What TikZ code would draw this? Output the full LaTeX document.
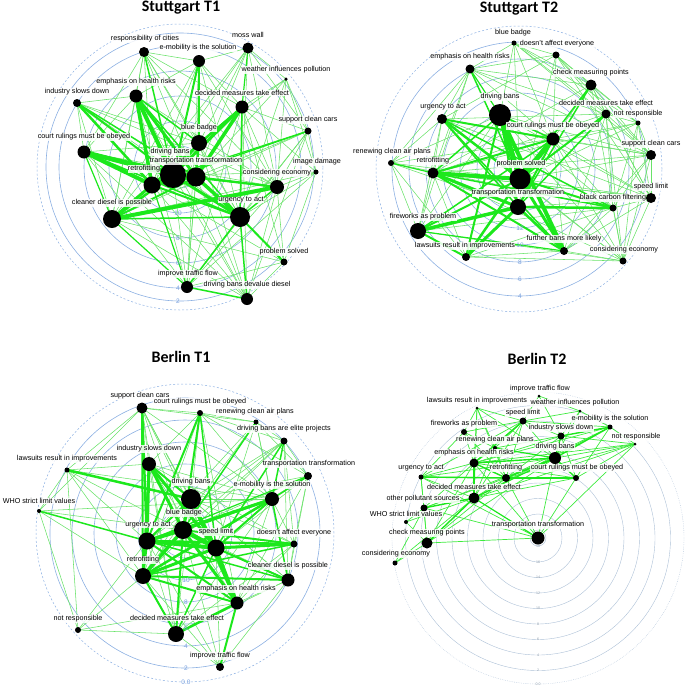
\documentclass[tikz,border=0pt]{standalone}
\usepackage{fontspec}
\setmainfont{Liberation Sans}
\newfontfamily\titlefam{Carlito}
\usetikzlibrary{backgrounds}
\definecolor{edgelight}{RGB}{105,226,105}
\definecolor{edgebright}{RGB}{28,232,28}
\definecolor{ringblue}{RGB}{140,176,226}
\definecolor{ringnum}{RGB}{120,160,222}
\definecolor{ringgray}{RGB}{172,192,214}
\newcommand{\labfont}{\fontsize{7.2}{8}\selectfont}
\newcommand{\numfont}{\fontsize{6.5}{7}\selectfont}
\newcommand{\tinynum}{\fontsize{3.6}{4}\selectfont}
\tikzset{
  vtx/.style={circle, fill=black, inner sep=0pt, minimum size=#1},
  lab/.style={font=\labfont, fill=white, fill opacity=0.85, text opacity=1, inner sep=0.4pt},
  ttl/.style={font=\titlefam\bfseries\fontsize{16}{18}\selectfont},
  ring/.style={draw=ringblue, line width=0.6pt},
  outerring/.style={draw=ringblue, line width=0.5pt, dash pattern=on 2pt off 2pt},
  grayring/.style={draw=ringgray, line width=0.4pt},
  dotring/.style={draw=ringgray, line width=0.4pt, dash pattern=on 0.6pt off 1.2pt},
  ringlab/.style={font=\numfont, text=ringnum, inner sep=0.3pt},
  tinylab/.style={font=\tinynum, text=ringgray!80!black, inner sep=0.2pt},
  thinedge/.style={draw=edgelight, line width=0.55pt},
  heavyedge/.style={draw=edgebright}
}
\begin{document}
\begin{tikzpicture}[x=1pt,y=-1pt]
\useasboundingbox (0,0) rectangle (685,686);

% ---------------- titles ----------------
\node[ttl] (tA) at (181,8) {Stuttgart T1};
\node[ttl] (tB) at (519,9) {Stuttgart T2};
\node[ttl] (tC) at (181,357) {Berlin T1};
\node[ttl] (tD) at (537,359) {Berlin T2};

% ---------------- rings ----------------
\begin{pgfonlayer}{background}
\foreach \r in {21,46,71,96,121,134} \draw[ring] (180,167) circle[radius=\r pt];
\draw[outerring] (180,167) circle[radius=143pt];
\foreach \r in {25,42,59,76,93,110,127} \draw[ring] (519,169) circle[radius=\r pt];
\draw[outerring] (519,169) circle[radius=143pt];
\foreach \r in {25,47,69,91,113,135} \draw[ring] (185,533) circle[radius=\r pt];
\draw[outerring] (185,533) circle[radius=149pt];
\foreach \r in {8,24,39.5,55,70.5,86,101.5,117,132.5} \draw[grayring] (538,538) circle[radius=\r pt];
\draw[dotring] (538,538) circle[radius=146pt];
\end{pgfonlayer}

\node[ringlab] (Ar10) at (178,213) {10};
\node[ringlab] (Ar8) at (178,238) {8};
\node[ringlab] (Ar6) at (178,263) {6};
\node[ringlab] (Ar4) at (178,288) {4};
\node[ringlab] (Ar2) at (178,301) {2};
\node[ringlab] (Br12) at (520,228) {12};
\node[ringlab] (Br10) at (520,245) {10};
\node[ringlab] (Br8) at (520,262) {8};
\node[ringlab] (Br6) at (520,279) {6};
\node[ringlab] (Br4) at (520,296) {4};
\node[ringlab] (Cr10) at (186,580) {10};
\node[ringlab] (Cr8) at (186,602) {8};
\node[ringlab] (Cr6) at (186,628) {6};
\node[ringlab] (Cr4) at (186,646) {4};
\node[ringlab] (Cr2) at (186,668) {2};
\node[ringlab] (Cr0) at (186,682) {0.0};
\foreach \v/\yy in {18/546,16/562,14/577.5,12/593,10/608.5,8/624,6/639.5,4/655,2/670.5,0.0/684}
  \node[tinylab] (Dr\v) at (538,\yy) {\v};

% ---------------- Stuttgart T1 nodes ----------------
\node[vtx=10pt] (A1) at (144,52) {};
\node[vtx=12pt] (A2) at (199,61) {};
\node[vtx=11pt] (A3) at (248,48) {};
\node[vtx=3.5pt] (A4) at (286,79) {};
\node[vtx=13pt] (A5) at (136,96) {};
\node[vtx=8pt] (A6) at (77,103) {};
\node[vtx=13pt] (A7) at (242,107) {};
\node[vtx=7pt] (A8) at (308,131) {};
\node[vtx=16pt] (A9) at (199,143) {};
\node[vtx=13pt] (A10) at (84,152) {};
\node[vtx=26pt] (A11) at (173,175) {};
\node[vtx=19pt] (A12) at (196,177) {};
\node[vtx=5pt] (A13) at (316,172) {};
\node[vtx=17pt] (A14) at (152,185) {};
\node[vtx=14pt] (A15) at (277,187) {};
\node[vtx=18pt] (A16) at (112,219) {};
\node[vtx=20pt] (A17) at (240,217) {};
\node[vtx=7pt] (A18) at (284,262) {};
\node[vtx=12pt] (A19) at (187,287) {};
\node[vtx=12pt] (A20) at (247,299) {};

% ---------------- Stuttgart T2 nodes ----------------
\node[vtx=5pt] (B1) at (514,43) {};
\node[vtx=7pt] (B2) at (556,55) {};
\node[vtx=9pt] (B3) at (470,69) {};
\node[vtx=11pt] (B4) at (591,85) {};
\node[vtx=22pt] (B5) at (500,115) {};
\node[vtx=9pt] (B6) at (606,114) {};
\node[vtx=5pt] (B7) at (638,123) {};
\node[vtx=10pt] (B8) at (442,119) {};
\node[vtx=13pt] (B9) at (553,139) {};
\node[vtx=10pt] (B10) at (651,155) {};
\node[vtx=6pt] (B11) at (391,163) {};
\node[vtx=11pt] (B12) at (433,173) {};
\node[vtx=21pt] (B13) at (520,179) {};
\node[vtx=10pt] (B14) at (651,198) {};
\node[vtx=16pt] (B15) at (518,207) {};
\node[vtx=7pt] (B16) at (613,208) {};
\node[vtx=16pt] (B17) at (418,231) {};
\node[vtx=8pt] (B18) at (466,257) {};
\node[vtx=8pt] (B19) at (564,251) {};
\node[vtx=7pt] (B20) at (623,261) {};

% ---------------- Berlin T1 nodes ----------------
\node[vtx=11pt] (C1) at (142,408) {};
\node[vtx=6pt] (C2) at (200,413) {};
\node[vtx=5pt] (C3) at (256,422) {};
\node[vtx=7pt] (C4) at (284,441) {};
\node[vtx=14pt] (C5) at (149,464) {};
\node[vtx=5pt] (C6) at (67,470) {};
\node[vtx=8pt] (C7) at (308,476) {};
\node[vtx=4pt] (C8) at (39,511) {};
\node[vtx=20pt] (C9) at (191,499) {};
\node[vtx=14pt] (C10) at (272,499) {};
\node[vtx=18pt] (C11) at (183,530) {};
\node[vtx=17pt] (C12) at (147,541) {};
\node[vtx=17pt] (C13) at (216,548) {};
\node[vtx=7pt] (C14) at (294,544) {};
\node[vtx=16pt] (C15) at (143,576) {};
\node[vtx=13pt] (C16) at (288,580) {};
\node[vtx=13pt] (C17) at (237,603) {};
\node[vtx=6pt] (C18) at (78,630) {};
\node[vtx=16pt] (C19) at (176,634) {};
\node[vtx=8pt] (C20) at (220,667) {};

% ---------------- Berlin T2 nodes ----------------
\node[vtx=3pt] (D1) at (539,396) {};
\node[vtx=3pt] (D2) at (477,408) {};
\node[vtx=3pt] (D3) at (580,411) {};
\node[vtx=7pt] (D4) at (523,421) {};
\node[vtx=5pt] (D5) at (610,427) {};
\node[vtx=6pt] (D6) at (464,432) {};
\node[vtx=7pt] (D7) at (561,436) {};
\node[vtx=3pt] (D8) at (635,444) {};
\node[vtx=4pt] (D9) at (495,448) {};
\node[vtx=12pt] (D10) at (555,458) {};
\node[vtx=9pt] (D11) at (474,463) {};
\node[vtx=5pt] (D12) at (421,477) {};
\node[vtx=8pt] (D13) at (506,478) {};
\node[vtx=6pt] (D14) at (576,478) {};
\node[vtx=11pt] (D15) at (474,498) {};
\node[vtx=7pt] (D16) at (424,508) {};
\node[vtx=4pt] (D17) at (406,522) {};
\node[vtx=11pt] (D18) at (427,543) {};
\node[vtx=5pt] (D19) at (395,563) {};
\node[vtx=13pt] (D20) at (538,538) {};

% ---------------- edges ----------------
\begin{pgfonlayer}{background}
% Stuttgart T1
\foreach \u/\v in {1/2,1/5,1/9,1/12,1/14,1/16,1/17,1/10,1/7,2/3,2/7,2/12,2/14,2/16,2/17,2/5,2/15,
  3/4,3/8,3/12,3/15,3/17,3/9,4/7,4/8,4/13,4/15,4/12,4/17,5/6,5/10,5/16,5/15,5/19,
  6/10,6/16,6/9,6/17,7/8,7/13,7/15,7/16,7/19,7/18,8/13,8/15,8/12,8/17,8/16,8/20,
  9/10,9/14,9/15,9/16,9/17,9/19,10/15,10/19,10/20,13/15,13/17,13/18,13/16,13/11,13/19,
  15/18,15/19,15/20,16/20,16/18,18/20,18/19,18/14,19/11,19/12,20/11,20/12,20/14,20/9,
  3/14,4/9,1/15,6/15,10/12,5/20,2/19,7/20,3/16,8/19}
  \draw[thinedge] (A\u.center) -- (A\v.center);
\foreach \u/\v/\w in {11/5/4,12/5/3,14/5/3.5,9/5/1.5,11/10/4.5,14/10/4,12/10/2.5,11/7/3,12/7/3.5,14/7/2,
  9/7/1.5,11/9/2,12/9/2,16/15/4,16/14/3,16/11/2.5,16/12/2,11/17/3,12/17/3.5,14/17/2,11/15/2,12/15/2,
  6/11/2,6/14/2.5,6/12/1.5,2/11/2,2/9/2.5,17/18/2,17/19/1.5,19/20/1.5,17/20/1.5,1/11/1.5,14/12/3,
  11/12/3,14/11/3,5/17/1.5,10/17/1.5,10/16/1.2,7/17/1.5,16/17/1.5,19/14/1.2,19/16/1.2,8/14/1.2,
  8/11/1.2,15/17/1.5,3/7/1.2}
  \draw[heavyedge, line width=\w pt] (A\u.center) -- (A\v.center);
% Stuttgart T2
\foreach \u/\v in {1/2,1/3,1/4,1/5,1/6,1/9,1/10,1/13,1/7,2/3,2/4,2/6,2/7,2/10,2/9,2/15,2/14,
  3/8,3/11,3/12,3/4,3/9,3/17,3/6,4/6,4/7,4/10,4/9,4/14,4/20,4/12,6/7,6/10,6/14,6/16,6/19,6/20,
  6/12,6/8,7/10,7/14,7/16,7/20,7/9,7/13,7/12,8/11,8/12,8/17,8/10,8/14,8/20,9/10,9/14,9/16,9/19,
  9/20,10/14,10/16,10/20,10/19,10/13,10/12,11/13,11/15,11/17,11/18,11/16,11/9,12/17,12/18,12/20,
  12/14,13/14,13/20,14/16,14/20,14/19,14/15,14/12,16/19,16/20,16/17,17/20,18/19,18/20,18/16,
  19/20,5/10,5/14,5/20,5/16,5/17,5/11,2/8,3/10}
  \draw[thinedge] (B\u.center) -- (B\v.center);
\foreach \u/\v/\w in {5/13/5,5/19/4,9/13/5,12/13/4,12/15/3,15/17/3.5,15/18/3,13/18/2.5,13/19/3,
  15/19/2.5,8/13/2.5,8/9/2,5/15/2.5,5/18/2,15/16/2.5,13/16/2,9/12/2,12/19/2,17/18/2,3/13/1.5,
  4/15/1.5,6/13/2,13/17/2,8/15/1.5,5/12/1.5,8/16/1.5,6/15/1.5,9/15/2,12/16/1.5,5/9/1.5,4/13/1.5,
  8/19/1.5,9/17/1.5,3/5/1.2,11/12/1.2,17/19/1.2}
  \draw[heavyedge, line width=\w pt] (B\u.center) -- (B\v.center);
% Berlin T1
\foreach \u/\v in {1/2,1/3,1/5,1/6,1/8,1/9,1/10,1/11,1/13,1/19,1/17,2/3,2/4,2/5,2/9,2/10,2/15,
  2/17,2/7,3/4,3/7,3/10,3/13,3/12,3/15,4/7,4/11,4/12,4/14,4/16,4/15,4/9,5/6,5/10,5/14,5/16,5/17,
  5/19,6/8,6/12,6/15,6/18,6/10,6/13,7/13,7/14,7/16,7/11,7/15,7/9,8/15,8/18,8/11,8/10,9/10,9/14,
  9/16,9/15,9/19,10/14,10/17,10/19,11/16,11/20,12/19,12/18,13/20,14/16,14/17,14/19,15/18,15/20,
  16/17,16/19,16/20,17/18,18/19,19/20,12/20,7/17,3/16,14/12}
  \draw[thinedge] (C\u.center) -- (C\v.center);
\foreach \u/\v/\w in {5/12/3,5/11/3,5/13/3,5/9/2,5/15/2,6/9/2.5,9/13/3,9/17/3,11/13/4.5,12/13/4,
  11/12/3.5,10/12/3,10/11/2.5,10/15/2.5,10/13/2,13/14/3,12/14/2.5,15/13/3,15/11/3.5,13/17/3,
  11/17/3,17/19/2.5,19/11/2,19/15/2,16/15/2,16/12/1.5,2/11/2,2/12/2,1/12/2.5,1/15/2,17/20/2,
  8/12/1.5,16/10/1.5,13/16/2,9/11/2,9/12/2,15/17/2,12/17/2,4/13/1.5,3/11/1.5,2/13/1.5,14/11/2,
  14/15/1.5,7/10/1.5,7/12/1.2,4/10/1.5,15/12/2.5,19/13/1.5}
  \draw[heavyedge, line width=\w pt] (C\u.center) -- (C\v.center);
% Berlin T2
\foreach \u/\v in {1/4,1/7,1/3,2/4,2/6,2/11,2/9,2/13,2/10,2/15,3/4,3/5,3/7,3/10,4/6,4/9,4/10,
  4/13,4/7,4/5,4/15,4/12,5/14,5/8,5/13,5/11,5/15,6/9,6/11,6/13,6/12,7/8,7/13,7/11,7/14,7/9,8/10,
  8/14,8/11,8/13,8/15,8/20,9/11,9/13,10/12,10/20,10/16,11/12,11/14,11/16,11/18,12/14,12/15,12/18,
  12/16,13/15,13/20,13/18,14/15,14/20,15/17,15/19,16/18,16/17,16/20,18/19,18/20,11/20,12/20,
  18/10,16/13,15/9,19/16,17/18}
  \draw[thinedge, draw=edgebright!85!white, line width=0.7pt] (D\u.center) -- (D\v.center);
\foreach \u/\v/\w in {10/7/1.4,10/11/1.4,10/13/1.4,12/13/1.4,13/14/1.4,15/18/1.4,15/16/1.4,
  11/15/1.4,4/11/1.4,5/10/1.4,10/14/1.4,11/13/1.4,7/5/1.4,15/20/1.2,10/9/1.2,10/15/1.2}
  \draw[heavyedge, line width=\w pt] (D\u.center) -- (D\v.center);
\end{pgfonlayer}

% ---------------- labels Stuttgart T1 ----------------
\node[lab] (A1l) at (145,39) {responsibility of cities};
\node[lab] (A2l) at (198,48) {e-mobility is the solution};
\node[lab] (A3l) at (248,35) {moss wall};
\node[lab] (A4l) at (286,70) {weather influences pollution};
\node[lab] (A5l) at (136,82) {emphasis on health risks};
\node[lab] (A6l) at (77,92) {industry slows down};
\node[lab] (A7l) at (242,93) {decided measures take effect};
\node[lab] (A8l) at (308,120) {support clean cars};
\node[lab] (A9l) at (199,128) {blue badge};
\node[lab] (A10l) at (84,137) {court rulings must be obeyed};
\node[lab] (A11l) at (170,152) {driving bans};
\node[lab] (A12l) at (196,161) {transportation transformation};
\node[lab] (A13l) at (317,162) {image damage};
\node[lab] (A14l) at (144,169) {retrofitting};
\node[lab] (A15l) at (277,173) {considering economy};
\node[lab] (A16l) at (112,203) {cleaner diesel is possible};
\node[lab] (A17l) at (241,200) {urgency to act};
\node[lab] (A18l) at (284,252) {problem solved};
\node[lab] (A19l) at (188,274) {improve traffic flow};
\node[lab] (A20l) at (247,285) {driving bans devalue diesel};

% ---------------- labels Stuttgart T2 ----------------
\node[lab] (B1l) at (513,33) {blue badge};
\node[lab] (B2l) at (557,44) {doesn't affect everyone};
\node[lab] (B3l) at (470,57) {emphasis on health risks};
\node[lab] (B4l) at (591,73) {check measuring points};
\node[lab] (B5l) at (500,97) {driving bans};
\node[lab] (B6l) at (606,103) {decided measures take effect};
\node[lab] (B7l) at (638,114) {not responsible};
\node[lab] (B8l) at (443,107) {urgency to act};
\node[lab] (B9l) at (553,126) {court rulings must be obeyed};
\node[lab] (B10l) at (651,144) {support clean cars};
\node[lab] (B11l) at (392,152) {renewing clean air plans};
\node[lab] (B12l) at (433,161) {retrofitting};
\node[lab] (B13l) at (521,164) {problem solved};
\node[lab] (B14l) at (651,187) {speed limit};
\node[lab] (B15l) at (518,193) {transportation transformation};
\node[lab] (B16l) at (613,198) {black carbon filtering};
\node[lab] (B17l) at (423,217) {fireworks as problem};
\node[lab] (B18l) at (465,246) {lawsuits result in improvements};
\node[lab] (B19l) at (564,239) {further bans more likely};
\node[lab] (B20l) at (624,250) {considering economy};

% ---------------- labels Berlin T1 ----------------
\node[lab] (C1l) at (140,396) {support clean cars};
\node[lab] (C2l) at (200,402) {court rulings must be obeyed};
\node[lab] (C3l) at (255,412) {renewing clean air plans};
\node[lab] (C4l) at (284,429) {driving bans are elite projects};
\node[lab] (C5l) at (149,449) {industry slows down};
\node[lab] (C6l) at (67,459) {lawsuits result in improvements};
\node[lab] (C7l) at (309,464) {transportation transformation};
\node[lab] (C8l) at (39,501) {WHO strict limit values};
\node[lab] (C9l) at (191,482) {driving bans};
\node[lab] (C10l) at (272,485) {e-mobility is the solution};
\node[lab] (C11l) at (184,513) {blue badge};
\node[lab] (C12l) at (148,525) {urgency to act};
\node[lab] (C13l) at (216,532) {speed limit};
\node[lab] (C14l) at (294,533) {doesn't affect everyone};
\node[lab] (C15l) at (143,560) {retrofitting};
\node[lab] (C16l) at (288,566) {cleaner diesel is possible};
\node[lab] (C17l) at (236,589) {emphasis on health risks};
\node[lab] (C18l) at (78,619) {not responsible};
\node[lab] (C19l) at (177,618) {decided measures take effect};
\node[lab] (C20l) at (220,656) {improve traffic flow};

% ---------------- labels Berlin T2 ----------------
\node[lab] (D1l) at (540,389) {improve traffic flow};
\node[lab] (D2l) at (477,401) {lawsuits result in improvements};
\node[lab] (D3l) at (575,403) {weather influences pollution};
\node[lab] (D4l) at (523,413) {speed limit};
\node[lab] (D5l) at (610,419) {e-mobility is the solution};
\node[lab] (D6l) at (464,424) {fireworks as problem};
\node[lab] (D7l) at (561,428) {industry slows down};
\node[lab] (D8l) at (636,437) {not responsible};
\node[lab] (D9l) at (495,440) {renewing clean air plans};
\node[lab] (D10l) at (555,447) {driving bans};
\node[lab] (D11l) at (474,453) {emphasis on health risks};
\node[lab] (D12l) at (421,468) {urgency to act};
\node[lab] (D13l) at (506,468) {retrofitting};
\node[lab] (D14l) at (577,468) {court rulings must be obeyed};
\node[lab] (D15l) at (474,487) {decided measures take effect};
\node[lab] (D16l) at (423,499) {other pollutant sources};
\node[lab] (D17l) at (406,514) {WHO strict limit values};
\node[lab] (D18l) at (427,533) {check measuring points};
\node[lab] (D19l) at (396,554) {considering economy};
\node[lab] (D20l) at (538,525) {transportation transformation};
\end{tikzpicture}
\end{document}
